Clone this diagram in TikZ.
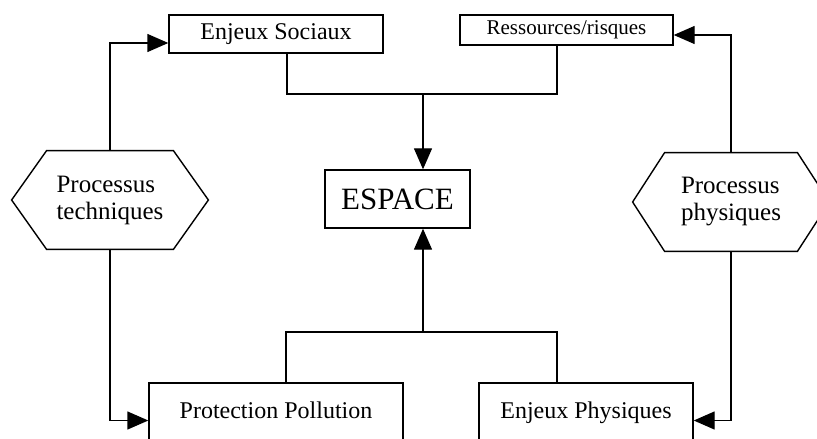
\documentclass[tikz,border=0pt]{standalone}
\usepackage{fontspec}
\setmainfont{Liberation Serif}
\usetikzlibrary{arrows.meta}

\begin{document}
\begin{tikzpicture}[x=0.5pt, y=-0.5pt,
    box/.style={draw, line width=0.7pt, inner sep=0pt, font=\fontsize{12}{14}\selectfont},
    hexa/.style={inner sep=0pt, minimum height=49pt, align=left, font=\fontsize{12.5}{13.5}\selectfont},
    link/.style={line width=0.7pt},
    arr/.style={line width=0.7pt, -{Triangle[length=10.5pt, width=9pt]}}]
    \useasboundingbox (0,0) rectangle (817,438);
    \clip (0,0) rectangle (817,438);

    \node[box, minimum width=107pt, minimum height=19pt] (soc) at (276,34) {Enjeux Sociaux};
    \node[box, minimum width=106.5pt, minimum height=15pt, font=\fontsize{10.5}{12}\selectfont] (res) at (566.5,30) {Ressources/risques};
    \node[box, minimum width=72.5pt, minimum height=29pt, font=\fontsize{15.5}{18}\selectfont] (esp) at (397.5,199) {ESPACE};
    \node[hexa, minimum width=63pt] (tech) at (110,200) {Processus\\techniques};
    \node[hexa, minimum width=66pt] (phys) at (731,202) {Processus\\physiques};
    % bottom boxes run past the lower edge
    \node[box, anchor=base, minimum width=127pt, text height=17.5pt, text depth=20pt] (prot) at (276,418) {Protection Pollution};
    \node[box, anchor=base, minimum width=107pt, text height=17.5pt, text depth=20pt] (phy) at (586,418) {Enjeux Physiques};

    \foreach \h/\d in {tech/17.5pt, phys/16pt}
        \draw[link] (\h.north west) -- (\h.north east) -- ([xshift=\d]\h.east) -- (\h.south east)
            -- (\h.south west) -- ([xshift=-\d]\h.west) -- cycle;

    \coordinate (jtop) at (423,94);
    \coordinate (jbot) at (423,332);

    \draw[link] ([xshift=5.5pt]soc.south) |- (jtop) -| ([xshift=-4.75pt]res.south);
    \draw[arr] (jtop) -- (esp.north -| jtop);
    \draw[link] ([xshift=5pt]prot.north) |- (jbot) -| ([xshift=-14.5pt]phy.north);
    \draw[arr] (jbot) -- (esp.south -| jbot);

    \draw[arr] (tech.north) |- ([yshift=-4.5pt]soc.west);
    \draw[arr] (tech.south) |- (prot.west);
    \draw[arr] (phys.north) |- ([yshift=-2.5pt]res.east);
    \draw[arr] (phys.south) |- (phy.east);
\end{tikzpicture}
\end{document}
